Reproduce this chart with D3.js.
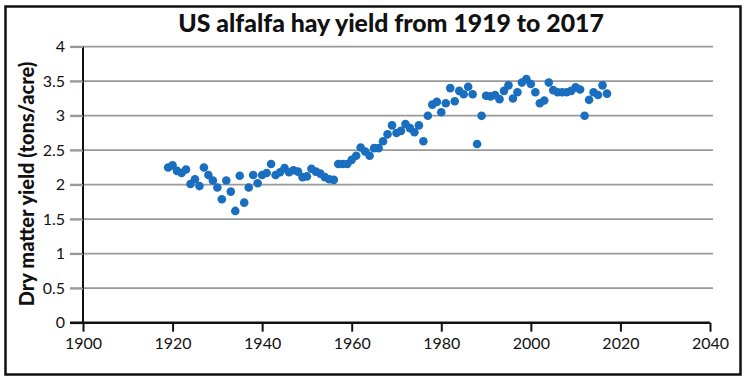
<!DOCTYPE html>
<html><head><meta charset="utf-8">
<script src="https://cdn.jsdelivr.net/npm/d3@7"></script>
<style>
html,body{margin:0;padding:0;background:#fff;}
svg{display:block;}
</style></head>
<body>
<svg id="chart" width="750" height="383"></svg>
<script>
const title = "US alfalfa hay yield from 1919 to 2017";
const yLabel = "Dry matter yield (tons/acre)";
const years = d3.range(1919, 2018);
const yields = [
  2.25, 2.28, 2.20, 2.17, 2.22, 2.01, 2.08, 1.98, 2.25, 2.14, // 1919-1928
  2.06, 1.96, 1.79, 2.06, 1.90, 1.62, 2.13, 1.74, 1.96, 2.14, // 1929-1938
  2.02, 2.14, 2.17, 2.30, 2.14, 2.18, 2.24, 2.18, 2.21, 2.19, // 1939-1948
  2.11, 2.12, 2.23, 2.19, 2.16, 2.11, 2.08, 2.07, 2.30, 2.30, // 1949-1958
  2.30, 2.36, 2.42, 2.54, 2.48, 2.42, 2.53, 2.53, 2.63, 2.73, // 1959-1968
  2.86, 2.75, 2.78, 2.88, 2.82, 2.76, 2.86, 2.63, 3.00, 3.16, // 1969-1978
  3.20, 3.05, 3.18, 3.40, 3.21, 3.36, 3.31, 3.42, 3.31, 2.59, // 1979-1988
  3.00, 3.29, 3.28, 3.30, 3.24, 3.36, 3.44, 3.25, 3.34, 3.48, // 1989-1998
  3.53, 3.46, 3.34, 3.18, 3.22, 3.48, 3.37, 3.34, 3.34, 3.34, // 1999-2008
  3.36, 3.41, 3.38, 3.00, 3.23, 3.34, 3.30, 3.44, 3.32        // 2009-2017
];
const xTicks = [1900, 1920, 1940, 1960, 1980, 2000, 2020, 2040];
const yTicks = [0, 0.5, 1, 1.5, 2, 2.5, 3, 3.5, 4];

const svg = d3.select("#chart");
const font = "Lato, 'Noto Sans', sans-serif";

// frame
svg.append("rect").attr("x", 5.5).attr("y", 6.5).attr("width", 735).attr("height", 368)
  .attr("fill", "none").attr("stroke", "#111").attr("stroke-width", 2.5);

const mLeft = 83, mRight = 710, mTop = 46.7, mBottom = 322.7;
const x = d3.scaleLinear().domain([1900, 2040]).range([mLeft, mRight]);
const y = d3.scaleLinear().domain([0, 4]).range([mBottom, mTop]);

// gridlines (with outward tick)
svg.append("g").selectAll("line").data(yTicks.filter(d => d > 0)).join("line")
  .attr("x1", mLeft - 13).attr("x2", mRight + 3)
  .attr("y1", d => y(d)).attr("y2", d => y(d))
  .attr("stroke", "#999").attr("stroke-width", 1.8);

// y axis
const yAxis = svg.append("g").attr("transform", `translate(${mLeft},0)`)
  .call(d3.axisLeft(y).tickValues(yTicks).tickFormat(d3.format("~g")).tickSize(13).tickPadding(5));
yAxis.select(".domain").attr("stroke", "#111").attr("stroke-width", 2).attr("d", `M0,${mTop}V${mBottom}`);
yAxis.selectAll(".tick line").attr("stroke", d => d === 0 ? "#111" : "#999").attr("stroke-width", 1.8);
yAxis.selectAll("text").attr("font-family", font).attr("font-size", 16).attr("fill", "#111");

// x axis
const xAxis = svg.append("g").attr("transform", `translate(0,${mBottom})`)
  .call(d3.axisBottom(x).tickValues(xTicks).tickFormat(d3.format("d")).tickSize(9).tickPadding(6));
xAxis.select(".domain").attr("stroke", "#111").attr("stroke-width", 2.5).attr("d", `M${mLeft - 13},0H${mRight}`);
xAxis.selectAll(".tick line").attr("stroke", "#111").attr("stroke-width", 2);
xAxis.selectAll("text").attr("font-family", font).attr("font-size", 16).attr("fill", "#111");

// points
svg.append("g").selectAll("circle").data(years.map((yr, i) => [yr, yields[i]])).join("circle")
  .attr("cx", d => x(d[0])).attr("cy", d => y(d[1])).attr("r", 4.3)
  .attr("fill", "#1a6ebf");

// title
svg.append("text").attr("x", 391).attr("y", 32).attr("text-anchor", "middle")
  .attr("font-family", font).attr("font-weight", 900).attr("font-size", 24.8).attr("fill", "#111")
  .text(title);

// y label
svg.append("text").attr("transform", `translate(34,184) rotate(-90)`).attr("text-anchor", "middle")
  .attr("font-family", font).attr("font-weight", 900).attr("font-size", 20).attr("fill", "#111")
  .text(yLabel);
</script>
</body></html>
